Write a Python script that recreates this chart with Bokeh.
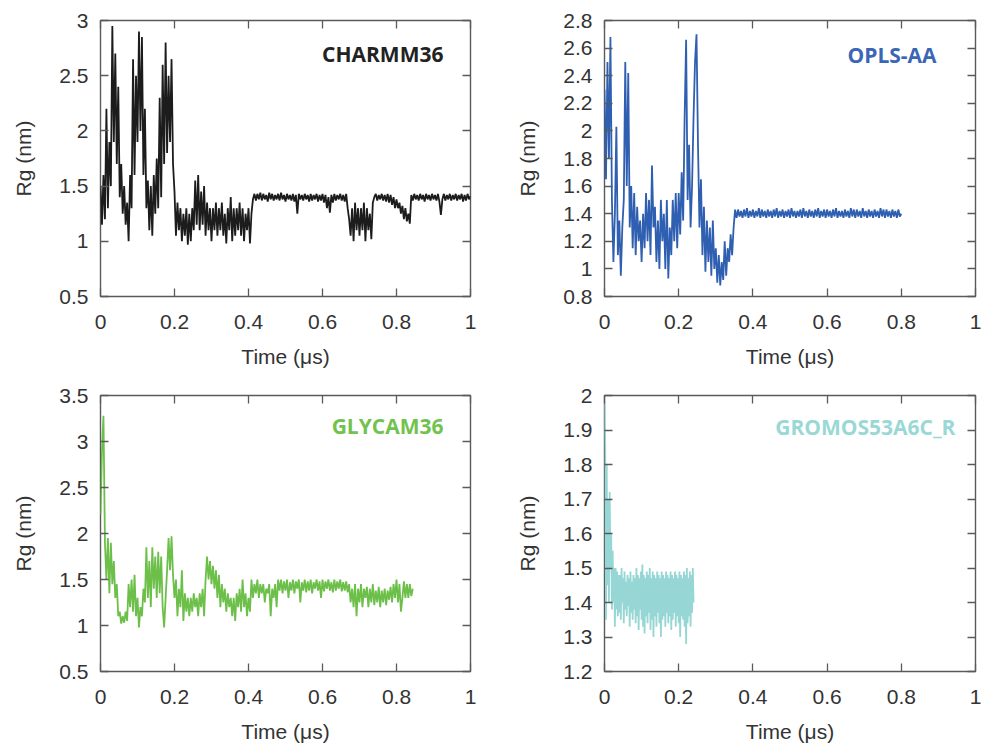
from bokeh.plotting import figure
from bokeh.models import Range1d, FixedTicker, LinearAxis, CustomJSTickFormatter, Label
from bokeh.layouts import gridplot
from bokeh.embed import file_html
from bokeh.resources import INLINE

# ---------------- data ----------------
x_ticks = [0, 0.2, 0.4, 0.6, 0.8, 1]

charmm_dt = 0.004
charmm_rg = [
    1.5, 1.15, 1.6, 1.2, 2.2, 1.3, 1.9, 1.5, 2.95, 1.9,
    2.7, 1.7, 2.4, 1.4, 1.7, 1.25, 1.5, 1.15, 1.35, 1.0,
    1.6, 1.3, 2.65, 1.6, 2.5, 1.9, 2.9, 2.0, 2.85, 1.6,
    2.2, 1.3, 1.55, 1.1, 1.5, 1.05, 1.6, 1.25, 1.75, 1.3,
    2.3, 1.4, 2.6, 1.7, 2.8, 1.8, 2.5, 1.9, 2.65, 1.7,
    1.45, 1.05, 1.35, 1.1, 1.3, 1.0, 1.25, 1.05, 1.3, 0.97,
    1.25, 1.0, 1.3, 1.1, 1.55, 1.15, 1.6, 1.1, 1.45, 1.15,
    1.5, 1.05, 1.35, 1.1, 1.3, 1.0, 1.3, 1.1, 1.35, 1.05,
    1.3, 1.1, 1.35, 1.05, 1.25, 0.98, 1.3, 1.1, 1.4, 1.0,
    1.3, 1.05, 1.3, 1.1, 1.35, 1.05, 1.3, 1.0, 1.25, 1.1,
    1.3, 0.98, 1.25, 1.38, 1.43, 1.37, 1.43, 1.38, 1.44, 1.37,
    1.43, 1.38, 1.42, 1.36, 1.44, 1.38, 1.43, 1.37, 1.42, 1.38,
    1.43, 1.37, 1.44, 1.38, 1.42, 1.36, 1.43, 1.38, 1.42, 1.37,
    1.43, 1.36, 1.42, 1.25, 1.43, 1.38, 1.42, 1.37, 1.43, 1.38,
    1.42, 1.36, 1.43, 1.37, 1.42, 1.38, 1.43, 1.36, 1.42, 1.37,
    1.43, 1.35, 1.42, 1.3, 1.4, 1.26, 1.42, 1.35, 1.43, 1.37,
    1.42, 1.38, 1.43, 1.37, 1.42, 1.36, 1.43, 1.3, 1.2, 1.05,
    1.3, 1.0, 1.35, 1.1, 1.3, 1.05, 1.3, 1.1, 1.35, 1.0,
    1.3, 1.1, 1.25, 1.02, 1.35, 1.4, 1.43, 1.37, 1.42, 1.38,
    1.43, 1.37, 1.42, 1.36, 1.43, 1.35, 1.42, 1.33, 1.4, 1.3,
    1.38, 1.3, 1.35, 1.25, 1.32, 1.2, 1.3, 1.18, 1.25, 1.16,
    1.42, 1.37, 1.43, 1.38, 1.42, 1.37, 1.43, 1.38, 1.42, 1.36,
    1.43, 1.38, 1.42, 1.37, 1.43, 1.38, 1.42, 1.37, 1.43, 1.36,
    1.24, 1.38, 1.43, 1.37, 1.42, 1.38, 1.43, 1.37, 1.42, 1.38,
    1.43, 1.37, 1.42, 1.38, 1.43, 1.36, 1.42, 1.37, 1.43, 1.38, 1.41,
]
charmm_yticks = [0.5, 1, 1.5, 2, 2.5, 3]

opls_dt = 0.004
opls_rg = [
    2.3, 1.65, 2.5, 1.8, 2.68, 1.5, 1.05, 1.4, 2.03, 1.1,
    1.35, 0.95, 1.3, 1.5, 2.5, 1.6, 2.42, 1.3, 1.6, 1.15,
    1.55, 1.1, 1.45, 1.2, 1.35, 1.05, 1.4, 1.15, 1.55, 1.2,
    1.5, 1.1, 1.75, 1.3, 1.45, 1.05, 1.35, 1.0, 1.5, 1.2,
    1.4, 1.0, 1.5, 0.93, 1.3, 1.1, 1.5, 1.2, 1.55, 1.15,
    1.55, 1.25, 1.7, 1.35, 2.1, 2.66, 1.5, 1.9, 1.3, 1.6,
    2.1, 2.5, 2.7, 1.9, 1.3, 1.65, 1.1, 1.45, 0.98, 1.35,
    1.05, 1.3, 0.95, 1.35, 1.0, 1.15, 0.9, 1.1, 0.88, 1.05,
    0.92, 1.2, 0.95, 1.15, 1.05, 1.25, 1.1, 1.3, 1.43, 1.37,
    1.43, 1.38, 1.42, 1.37, 1.43, 1.38, 1.44, 1.37, 1.42, 1.38,
    1.43, 1.37, 1.42, 1.38, 1.44, 1.37, 1.43, 1.38, 1.42, 1.37,
    1.43, 1.38, 1.42, 1.37, 1.43, 1.38, 1.44, 1.37, 1.42, 1.38,
    1.43, 1.37, 1.42, 1.38, 1.43, 1.37, 1.44, 1.38, 1.42, 1.37,
    1.42, 1.38, 1.43, 1.37, 1.44, 1.38, 1.42, 1.37, 1.43, 1.38,
    1.42, 1.37, 1.43, 1.38, 1.44, 1.37, 1.42, 1.38, 1.43, 1.37,
    1.43, 1.38, 1.42, 1.37, 1.43, 1.38, 1.44, 1.37, 1.42, 1.38,
    1.42, 1.37, 1.43, 1.38, 1.42, 1.37, 1.44, 1.38, 1.43, 1.37,
    1.43, 1.38, 1.42, 1.37, 1.44, 1.38, 1.42, 1.37, 1.43, 1.38,
    1.42, 1.37, 1.43, 1.38, 1.42, 1.37, 1.44, 1.38, 1.43, 1.37,
    1.43, 1.38, 1.42, 1.37, 1.43, 1.38, 1.42, 1.37, 1.43, 1.38, 1.4,
]
opls_yticks = [0.8, 1, 1.2, 1.4, 1.6, 1.8, 2, 2.2, 2.4, 2.6, 2.8]

glycam_dt = 0.004
glycam_rg = [
    2.2, 2.9, 3.28, 1.9, 1.5, 1.95, 1.35, 1.9, 1.45, 1.7,
    1.3, 1.45, 1.1, 1.15, 1.02, 1.1, 1.03, 1.15, 1.05, 1.45,
    1.2, 1.5, 1.15, 1.55, 1.1, 1.3, 0.98, 1.2, 1.1, 1.4,
    1.25, 1.85, 1.3, 1.7, 1.2, 1.85, 1.4, 1.75, 1.3, 1.8,
    1.35, 1.75, 1.2, 0.98, 1.3, 1.6, 1.95, 1.6, 1.97, 1.55,
    1.3, 1.5, 1.1, 1.4, 1.2, 1.6, 1.05, 1.35, 1.15, 1.3,
    1.1, 1.3, 1.15, 1.35, 1.2, 1.3, 1.1, 1.35, 1.2, 1.4,
    1.1, 1.5, 1.75, 1.5, 1.7, 1.45, 1.65, 1.4, 1.6, 1.3,
    1.55, 1.2, 1.45, 1.25, 1.4, 1.15, 1.35, 1.2, 1.3, 1.1,
    1.3, 1.05, 1.35, 1.2, 1.4, 1.15, 1.5, 1.2, 1.35, 1.1,
    1.3, 1.15, 1.5, 1.3, 1.45, 1.35, 1.5, 1.3, 1.45, 1.35,
    1.45, 1.25, 1.4, 1.35, 1.45, 1.1, 1.4, 1.3, 1.45, 1.2,
    1.5, 1.38, 1.5, 1.35, 1.48, 1.38, 1.5, 1.3, 1.47, 1.38,
    1.5, 1.35, 1.48, 1.4, 1.5, 1.25, 1.47, 1.38, 1.5, 1.36,
    1.48, 1.38, 1.5, 1.35, 1.47, 1.4, 1.5, 1.38, 1.48, 1.3,
    1.5, 1.37, 1.48, 1.4, 1.5, 1.38, 1.47, 1.36, 1.5, 1.38,
    1.48, 1.4, 1.5, 1.37, 1.47, 1.38, 1.48, 1.36, 1.45, 1.25,
    1.4, 1.2, 1.45, 1.1, 1.4, 1.25, 1.45, 1.2, 1.4, 1.3,
    1.42, 1.2, 1.4, 1.25, 1.45, 1.22, 1.38, 1.25, 1.42, 1.2,
    1.38, 1.25, 1.4, 1.22, 1.38, 1.28, 1.42, 1.25, 1.45, 1.3,
    1.5, 1.25, 1.45, 1.15, 1.3, 1.48, 1.3, 1.45, 1.3, 1.45, 1.32, 1.4,
]
glycam_yticks = [0.5, 1, 1.5, 2, 2.5, 3, 3.5]

gromos_dt = 0.002
gromos_rg = [
    1.98, 1.85, 1.35, 1.8, 1.45, 1.7, 1.4, 1.72, 1.5, 1.6,
    1.38, 1.55, 1.4, 1.5, 1.33, 1.5, 1.38, 1.49, 1.36, 1.48,
    1.37, 1.48, 1.35, 1.5, 1.4, 1.47, 1.34, 1.49, 1.38, 1.46,
    1.36, 1.48, 1.39, 1.47, 1.33, 1.49, 1.37, 1.46, 1.35, 1.48,
    1.38, 1.47, 1.34, 1.5, 1.36, 1.48, 1.32, 1.47, 1.38, 1.49,
    1.35, 1.51, 1.33, 1.48, 1.31, 1.47, 1.36, 1.49, 1.34, 1.48,
    1.37, 1.5, 1.32, 1.47, 1.35, 1.49, 1.3, 1.48, 1.36, 1.47,
    1.33, 1.49, 1.37, 1.48, 1.34, 1.47, 1.3, 1.49, 1.35, 1.48,
    1.36, 1.47, 1.33, 1.49, 1.37, 1.48, 1.34, 1.47, 1.36, 1.49,
    1.32, 1.48, 1.35, 1.47, 1.37, 1.49, 1.33, 1.48, 1.36, 1.47,
    1.34, 1.49, 1.3, 1.48, 1.36, 1.47, 1.35, 1.49, 1.33, 1.48,
    1.28, 1.5, 1.34, 1.47, 1.36, 1.49, 1.33, 1.48, 1.37, 1.5, 1.4,
]
gromos_yticks = [1.2, 1.3, 1.4, 1.5, 1.6, 1.7, 1.8, 1.9, 2]

# ---------------- styling helpers ----------------
FRAME_COLOR = "#5a5a5a"
TEXT_COLOR = "#333333"
TICK_FONT = "Liberation Sans"
fmt = CustomJSTickFormatter(code="return tick.toString();")
blank_fmt = CustomJSTickFormatter(code="return '';")


def panel(rg, dt, color, name, name_color, yr, yticks, name_x, name_y,
          ml, mr, mt, mb, fw):
    t = [round(i * dt, 4) for i in range(len(rg))]
    p = figure(frame_width=fw, frame_height=276,
               x_range=Range1d(0, 1), y_range=Range1d(yr[0], yr[1]),
               output_backend="svg", toolbar_location=None,
               min_border_left=ml, min_border_right=mr,
               min_border_top=mt, min_border_bottom=mb)
    p.line(t, rg, line_color=color, line_width=1.8)
    p.xgrid.visible = False
    p.ygrid.visible = False
    p.outline_line_color = FRAME_COLOR
    p.outline_line_width = 1.4
    p.background_fill_color = "white"
    p.border_fill_color = "white"

    p.xaxis.ticker = FixedTicker(ticks=x_ticks)
    p.yaxis.ticker = FixedTicker(ticks=yticks)
    p.xaxis.axis_label = "Time (μs)"
    p.yaxis.axis_label = "Rg (nm)"
    for ax in (p.xaxis[0], p.yaxis[0]):
        ax.formatter = fmt
        ax.axis_line_color = None
        ax.major_tick_in = 8
        ax.major_tick_out = 0
        ax.major_tick_line_color = FRAME_COLOR
        ax.major_tick_line_width = 1.3
        ax.minor_tick_line_color = None
        ax.major_label_text_font = TICK_FONT
        ax.major_label_text_font_size = "21px"
        ax.major_label_text_color = TEXT_COLOR
        ax.axis_label_text_font = TICK_FONT
        ax.axis_label_text_font_size = "21px"
        ax.axis_label_text_font_style = "normal"
        ax.axis_label_text_color = TEXT_COLOR
    p.yaxis.major_label_standoff = 12
    p.yaxis.axis_label_standoff = 21
    p.xaxis.major_label_standoff = 18
    p.xaxis.axis_label_standoff = 13

    # mirrored ticks on right and top (no labels)
    for loc, tk in (("right", yticks), ("above", x_ticks)):
        ax = LinearAxis(ticker=FixedTicker(ticks=tk), formatter=blank_fmt)
        ax.axis_line_color = None
        ax.major_tick_in = 8
        ax.major_tick_out = 0
        ax.major_tick_line_color = FRAME_COLOR
        ax.major_tick_line_width = 1.3
        ax.minor_tick_line_color = None
        ax.major_label_standoff = 0
        p.add_layout(ax, loc)

    p.add_layout(Label(x=name_x, y=name_y, text=name,
                       text_align="right", text_baseline="middle",
                       text_font="Open Sans", text_font_style="bold",
                       text_font_size="21px", text_color=name_color))
    return p


p1 = panel(charmm_rg, charmm_dt, "#1c1c1c", "CHARMM36", "#222222",
           (0.5, 3), charmm_yticks, 0.927, 2.70, 100, 34, 20, 87, 370)
p2 = panel(opls_rg, opls_dt, "#2f5fb0", "OPLS-AA", "#3a66b5",
           (0.8, 2.8), opls_yticks, 0.895, 2.55, 100, 6, 20, 87, 371)
p3 = panel(glycam_rg, glycam_dt, "#6cc04a", "GLYCAM36", "#72c250",
           (0.5, 3.5), glycam_yticks, 0.927, 3.17, 100, 34, 12, 72, 370)
p4 = panel(gromos_rg, gromos_dt, "#96d6d4", "GROMOS53A6C_R", "#9ad8d5",
           (1.2, 2.0), gromos_yticks, 0.946, 1.91, 100, 6, 12, 72, 371)

layout = gridplot([[p1, p2], [p3, p4]], toolbar_location=None)

open("out.html", "w").write(file_html(layout, INLINE))
